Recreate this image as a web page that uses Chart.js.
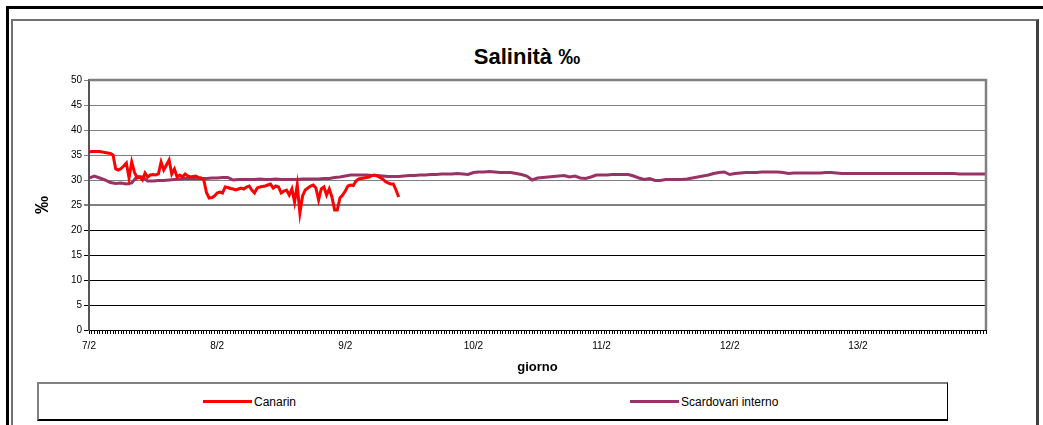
<!DOCTYPE html>
<html>
<head>
<meta charset="utf-8">
<script src="https://cdn.jsdelivr.net/npm/chart.js@4"></script>
<style>
    body { margin: 0; width: 1043px; height: 425px; overflow: hidden; background: #fff; font-family: 'Liberation Sans', Arial, sans-serif; }
    .frame-outer { position: absolute; left: 6px; top: 6px; width: 1100px; height: 500px; border-top: 3px solid #000; border-left: 3px solid #000; }
    .frame-inner { position: absolute; left: 11px; top: 19px; width: 1023px; height: 500px; border-top: 2px solid #707070; border-left: 2px solid #707070; border-right: 3px solid #404040; }
    .title { position: absolute; left: 327px; width: 400px; top: 44px; text-align: center; font-size: 22px; font-weight: bold; color: #000; }
    .legend-box { position: absolute; left: 37px; top: 382px; width: 908px; height: 35px; border: 1px solid #000; border-top: 2px solid #808080; border-left: 2px solid #808080; border-bottom: 2px solid #000; }
    .legend-item { position: absolute; top: 0; height: 35px; display: flex; align-items: center; font-size: 12px; color: #000; }
    .legend-item span.swatch { display: inline-block; width: 49px; height: 3px; margin-right: 2px; }
    #chartWrap { position: absolute; left: 0; top: 0; width: 1043px; height: 380px; }
</style>
</head>
<body>
<div class="frame-outer"></div>
<div class="frame-inner"></div>
<div class="title">Salinità ‰</div>
<div id="chartWrap"><canvas id="salChart" width="1043" height="380"></canvas></div>
<div class="legend-box" id="legend"></div>

<script>
// etichette dei giorni (una ogni 24 ore)
const dayLabels = ['7/2', '8/2', '9/2', '10/2', '11/2', '12/2', '13/2'];
const hoursShown = 168;

// Canarin: una lettura ogni mezz'ora dalle 0:00 del 7/2
const canarinStepHours = 0.5;
const canarin = [
    35.6, 35.7, 35.7, 35.7, 35.7, 35.6, 35.5, 35.4, 35.3, 35.0,
    32.2, 32.0, 32.3, 32.8, 33.4, 30.4, 33.6, 31.6, 30.4, 30.6,
    30.0, 31.4, 30.6, 31.0, 31.1, 31.0, 31.2, 33.6, 32.0, 33.0,
    34.0, 31.2, 32.2, 30.6, 31.0, 30.6, 31.2, 30.8, 30.6, 30.7,
    30.8, 30.5, 30.4, 30.0, 27.5, 26.4, 26.5, 26.8, 27.4, 27.6,
    27.4, 28.6, 28.5, 28.3, 28.2, 28.0, 28.2, 28.4, 28.2, 28.6,
    28.8, 28.0, 27.4, 28.4, 28.6, 28.7, 28.8, 29.0, 29.2, 28.4,
    28.8, 28.6, 27.4, 27.8, 28.0, 27.0, 28.2, 25.6, 29.0, 23.4,
    26.8, 28.0, 28.4, 28.8, 29.0, 28.4, 26.0, 28.2, 28.6, 27.0,
    28.2, 26.6, 24.0, 24.0, 26.4, 27.0, 27.8, 28.8, 29.0, 28.9,
    29.8, 30.2, 30.3, 30.4, 30.5, 30.6, 30.9, 31.0, 30.8, 30.5,
    30.2, 29.7, 29.4, 29.2, 29.2, 28.0, 26.6
];

// Scardovari interno: una lettura ogni ora
const scardovariStepHours = 1;
const scardovari = [
    30.4, 30.8, 30.4, 30.0, 29.5, 29.3, 29.4, 29.2, 29.4, 30.7,
    30.6, 29.8, 29.8, 29.9, 29.9, 30.0, 30.1, 30.2, 30.3, 30.3,
    30.3, 30.3, 30.3, 30.4, 30.4, 30.5, 30.5, 30.0, 30.1, 30.1,
    30.1, 30.1, 30.2, 30.1, 30.1, 30.2, 30.1, 30.1, 30.1, 30.1,
    30.2, 30.2, 30.2, 30.2, 30.3, 30.3, 30.5, 30.6, 30.8, 31.0,
    31.0, 31.0, 31.0, 30.9, 30.9, 30.8, 30.7, 30.7, 30.7, 30.8,
    30.9, 30.9, 31.0, 31.0, 31.1, 31.1, 31.2, 31.2, 31.2, 31.3,
    31.2, 31.1, 31.5, 31.6, 31.6, 31.7, 31.6, 31.5, 31.5, 31.5,
    31.3, 31.1, 30.8, 30.0, 30.4, 30.5, 30.6, 30.7, 30.8, 30.9,
    30.6, 30.8, 30.4, 30.3, 30.6, 31.0, 31.0, 31.0, 31.1, 31.1,
    31.1, 31.1, 30.8, 30.4, 30.1, 30.3, 29.9, 29.9, 30.1, 30.1,
    30.1, 30.1, 30.2, 30.4, 30.6, 30.8, 31.0, 31.3, 31.5, 31.6,
    31.1, 31.3, 31.4, 31.5, 31.5, 31.5, 31.6, 31.6, 31.6, 31.6,
    31.5, 31.3, 31.4, 31.4, 31.4, 31.4, 31.4, 31.4, 31.5, 31.5,
    31.4, 31.3, 31.3, 31.3, 31.3, 31.3, 31.3, 31.3, 31.3, 31.3,
    31.3, 31.3, 31.3, 31.3, 31.3, 31.3, 31.3, 31.3, 31.3, 31.3,
    31.3, 31.3, 31.3, 31.2, 31.2, 31.2, 31.2, 31.2, 31.2
];

const toPoints = (values, step) => values.map((v, i) => ({ x: i * step, y: v }));

// bordo destro e superiore dell'area del grafico
const plotBorder = {
    id: 'plotBorder',
    afterDraw(chart) {
        const { ctx, chartArea } = chart;
        ctx.save();
        ctx.strokeStyle = '#808080';
        ctx.lineWidth = 2.5;
        ctx.beginPath();
        ctx.moveTo(chartArea.left, chartArea.top);
        ctx.lineTo(chartArea.right, chartArea.top);
        ctx.lineTo(chartArea.right, chartArea.bottom);
        ctx.stroke();
        ctx.restore();
    }
};

document.addEventListener('DOMContentLoaded', () => {
    Chart.defaults.font.family = "'Liberation Sans', Arial, sans-serif";
    Chart.defaults.color = '#000';

    const chart = new Chart(document.getElementById('salChart'), {
        type: 'line',
        data: {
            datasets: [
                {
                    label: 'Canarin',
                    data: toPoints(canarin, canarinStepHours),
                    borderColor: '#FF0000',
                    backgroundColor: '#FF0000',
                    borderWidth: 3,
                    pointRadius: 0,
                    tension: 0
                },
                {
                    label: 'Scardovari interno',
                    data: toPoints(scardovari, scardovariStepHours),
                    borderColor: '#993366',
                    backgroundColor: '#993366',
                    borderWidth: 3,
                    pointRadius: 0,
                    tension: 0
                }
            ]
        },
        options: {
            responsive: false,
            animation: false,
            layout: { padding: { left: 0, right: 57, top: 80, bottom: 0 } },
            plugins: {
                legend: { display: false },
                tooltip: { enabled: false }
            },
            scales: {
                x: {
                    type: 'linear',
                    min: 0,
                    max: hoursShown,
                    afterFit: (scale) => { scale.height = 50; },
                    border: { color: '#000', width: 1 },
                    grid: { drawOnChartArea: false, tickLength: 4, color: '#000' },
                    ticks: {
                        stepSize: 0.5,
                        autoSkip: false,
                        maxRotation: 0,
                        maxTicksLimit: 500,
                        padding: 6,
                        font: { size: 10 },
                        callback: (value) => (value % 24 === 0 && dayLabels[value / 24]) ? dayLabels[value / 24] : ''
                    },
                    title: {
                        display: true,
                        text: 'giorno',
                        font: { size: 13, weight: 'bold' },
                        padding: { top: 0, bottom: 5 }
                    }
                },
                y: {
                    min: 0,
                    max: 50,
                    afterFit: (scale) => { scale.width = 89; },
                    border: { color: '#555', width: 2 },
                    grid: {
                        tickLength: 5,
                        color: (ctx) => ctx.tick.value >= 25 ? '#808080' : '#000',
                        lineWidth: (ctx) => ctx.tick.value === 25 ? 2 : 1
                    },
                    ticks: { stepSize: 5, padding: 2, font: { size: 10 } },
                    title: {
                        display: true,
                        text: '‰',
                        font: { size: 18, weight: 'bold' },
                        padding: { top: 32 }
                    }
                }
            }
        },
        plugins: [plotBorder]
    });

    // legenda in HTML, costruita dalle serie del grafico
    const legend = document.getElementById('legend');
    const itemLeft = [164, 591];
    chart.data.datasets.forEach((ds, i) => {
        const item = document.createElement('div');
        item.className = 'legend-item';
        item.style.left = itemLeft[i] + 'px';
        const sw = document.createElement('span');
        sw.className = 'swatch';
        sw.style.background = ds.borderColor;
        item.appendChild(sw);
        item.appendChild(document.createTextNode(ds.label));
        legend.appendChild(item);
    });
});
</script>
</body>
</html>
